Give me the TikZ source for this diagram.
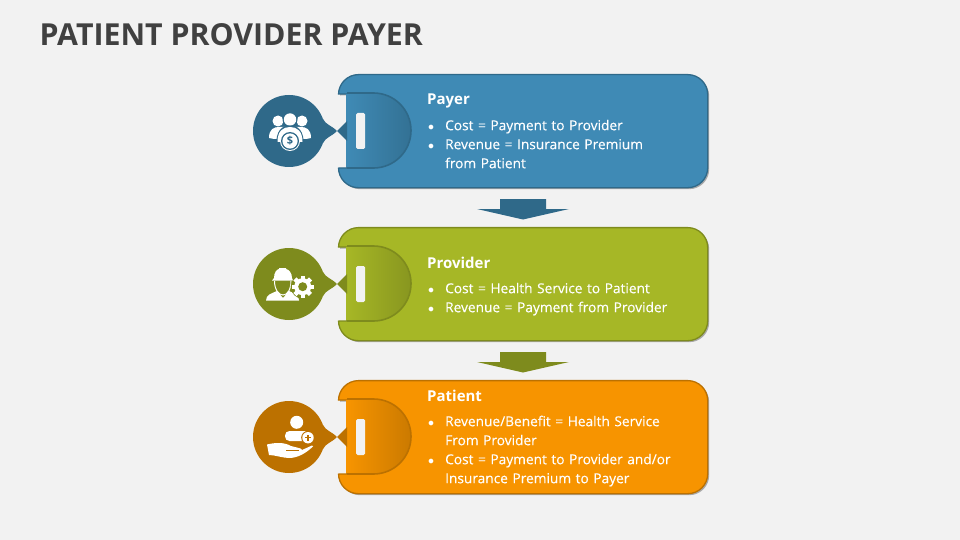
\documentclass[tikz,border=0pt]{standalone}
\usepackage{fontspec}
\setmainfont{Open Sans}
\newfontfamily\bodyfont[FakeBold=0.25]{Open Sans}
\usetikzlibrary{positioning, shadows}
\definecolor{pagegray}{HTML}{F2F2F2}
\definecolor{titlegray}{HTML}{404040}
\definecolor{payerfill}{HTML}{3F8AB5}
\definecolor{payerdark}{HTML}{2F6989}
\definecolor{providerfill}{HTML}{A6B726}
\definecolor{providerdark}{HTML}{7E8B1D}
\definecolor{patientfill}{HTML}{F79400}
\definecolor{patientdark}{HTML}{BC7100}
\tikzset{
    softshadow/.style={drop shadow={shadow xshift=1.5pt, shadow yshift=-1.5pt, opacity=0.3, fill=black}},
    heading/.style={anchor=base west, text=white, font=\fontsize{15}{18}\selectfont\bfseries, inner sep=0pt},
    cardtext/.style={anchor=north west, text=white, text width=280pt, inner sep=0pt, font=\bodyfont\fontsize{13.7}{19}\selectfont},
    icon/.style={fill=white, draw=none},
}
\newenvironment{cardlist}{\begin{list}{\raisebox{-0.5pt}{\fontsize{13}{13}\selectfont$\bullet$}}{\setlength{\leftmargin}{18pt}\setlength{\labelwidth}{7pt}\setlength{\labelsep}{11pt}\setlength{\itemsep}{0pt}\setlength{\parsep}{0pt}\setlength{\topsep}{0pt}\setlength{\partopsep}{0pt}\setlength{\parskip}{0pt}}}{\end{list}}
% card with its tab, badge and down arrow
\newcommand{\cardshape}[3]{
    \begin{scope}[shift={(0,#1)}]
        \path[fill=#2, draw=#3, line width=1.3pt, softshadow]
            (347,94) -- (338.5,94) [rounded corners=20pt] -- (338.5,74.6) -- (707.7,74.6) -- (707.7,187.7) -- (338.5,187.7) [sharp corners] -- (338.5,168) -- (347,168) -- cycle;
        \draw[draw=#3, line width=1.6pt, left color=#2, middle color=#2, right color=#3!75!#2, rounded corners=37.5pt]
            (347,93) -- (411,93) -- (411,168) -- (347,168);
        \fill[#2] (346,93.8) rectangle (349,167.2);
        \fill[pagegray, rounded corners=1.5pt] (356,113) rectangle (365,149);
        \fill[#3] (289,131) circle (36);
        \fill[#3] (337,131) .. controls (331,125) and (326,125) .. (323,119) -- (323,143) .. controls (326,137) and (331,137) .. (337,131) -- cycle;
        \fill[#3] (337,131) -- (347,121) -- (347,141) -- cycle;
    \end{scope}
}
\newcommand{\downarrowshape}[2]{
    \fill[#2] (500,#1) -- (546,#1) -- (546,#1+10) -- (569,#1+10) -- (523,#1+20.5) -- (477,#1+10) -- (500,#1+10) -- cycle;
}
\begin{document}
\begin{tikzpicture}[x=1pt, y=-1pt]
    \useasboundingbox (0,0) rectangle (960,540);
    \fill[pagegray] (0,0) rectangle (960,540);
    \node [anchor=base west, text=titlegray, inner sep=0pt, font=\fontsize{30.3}{36}\selectfont\bfseries] (pagetitle) at (39.5,45.7) {PATIENT PROVIDER PAYER};

    \cardshape{0}{payerfill}{payerdark}
    \cardshape{153}{providerfill}{providerdark}
    \cardshape{306}{patientfill}{patientdark}
    \downarrowshape{199}{payerdark}
    \downarrowshape{352}{providerdark}

    \node [heading] (payerhead) at (427,105) {Payer};
    \node [cardtext, below=6pt of payerhead.base west, anchor=north west] (payertext) {%
        \begin{cardlist}
            \item Cost = Payment to Provider
            \item Revenue = Insurance Premium\\from Patient
        \end{cardlist}};
    \node [heading] (providerhead) at (427,268) {Provider};
    \node [cardtext, below=6pt of providerhead.base west, anchor=north west] (providertext) {%
        \begin{cardlist}
            \item Cost = Health Service to Patient
            \item Revenue = Payment from Provider
        \end{cardlist}};
    \node [heading] (patienthead) at (427,401) {Patient};
    \node [cardtext, below=6pt of patienthead.base west, anchor=north west] (patienttext) {%
        \begin{cardlist}
            \item Revenue/Benefit = Health Service\\From Provider
            \item Cost = Payment to Provider and/or\\Insurance Premium to Payer
        \end{cardlist}};

    % payer icon
    \fill[icon] (278,121) circle (5.5);
    \fill[icon] (302,121) circle (5.5);
    \fill[icon] (269,138) .. controls (269,129) and (274,127) .. (279,127) -- (301,127) .. controls (306,127) and (311,129) .. (311,138) -- (306,139) -- (274,139) -- cycle;
    \fill[payerdark] (290,119.5) circle (7.5);
    \fill[icon] (290,119.5) circle (6.2);
    \fill[payerdark] (276,146) .. controls (276,130) and (282,125.5) .. (290,125.5) .. controls (298,125.5) and (304,130) .. (304,146) -- cycle;
    \fill[icon] (277.5,142) .. controls (277.5,131) and (283,127) .. (290,127) .. controls (297,127) and (302.5,131) .. (302.5,142) -- cycle;
    \fill[icon] (290,141) circle (10);
    \fill[payerdark] (290,141) circle (9);
    \fill[icon] (290,141) circle (7.6);
    \node [text=payerdark, inner sep=0pt, font=\fontsize{11}{11}\selectfont\bfseries] (coinsign) at (290,141) {\$};

    % provider icon
    \fill[icon] (274,278) .. controls (274,272) and (277,269.5) .. (279,269) -- (279,268) -- (286,268) -- (286,269) .. controls (289,269.5) and (292,273) .. (292,278) -- (293,280.5) -- (272,280.5) -- cycle;
    \draw[white, line width=1pt] (274.5,281) .. controls (274.5,290) and (279,295) .. (283,295) .. controls (287,295) and (291,290) .. (291,281);
    \fill[icon] (266,300.5) .. controls (266,295) and (271,293.5) .. (277,291) -- (283,298) -- (289,291) .. controls (295,293.5) and (299,295) .. (299,300.5) -- cycle;
    \fill[providerdark] (302.7,286.7) circle (12);
    \fill[icon] (302.7,286.7) circle (8.5);
    \foreach \a in {0,45,...,315}
        \fill[icon, shift={(302.7,286.7)}, rotate=\a] (-2.2,-7) rectangle (2.2,-11);
    \fill[providerdark] (302.7,286.7) circle (4.5);

    % patient icon
    \fill[icon] (296.7,422.3) circle (6.5);
    \fill[icon, rounded corners=4.5pt] (285,431) rectangle (309,441);
    \fill[patientdark] (308,437.7) circle (6.8);
    \fill[icon] (308,437.7) circle (5.7);
    \fill[patientdark] (304.8,437) rectangle (311.2,438.4);
    \fill[patientdark] (307.3,434.5) rectangle (308.7,441);
    \fill[icon] (267,444.5) .. controls (275,442.5) and (284,442) .. (291,446) -- (297,447.5) .. controls (300,448) and (302,449) .. (302,450) -- (312,445.5) -- (313,446.5) .. controls (306,453) and (298,458) .. (289,458) .. controls (283,458) and (275,455) .. (269,455) -- cycle;
    \draw[patientdark, line width=0.8pt] (286,450.5) -- (299,450.5);
\end{tikzpicture}
\end{document}
